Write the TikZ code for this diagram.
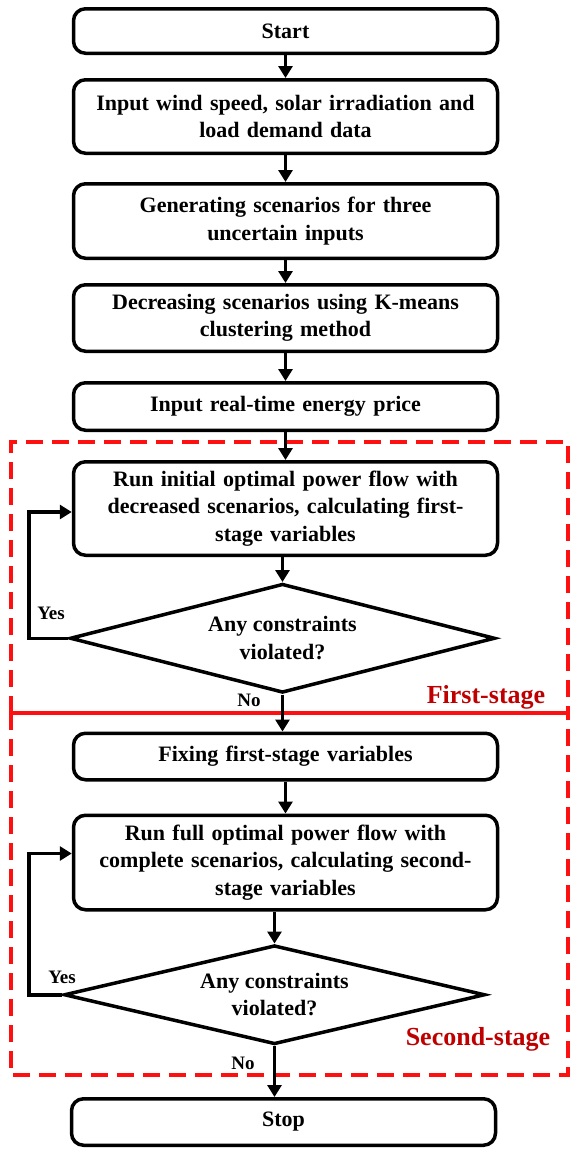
\documentclass[tikz,border=0pt]{standalone}
\usepackage{fontspec}
\setmainfont{Liberation Serif}
\usetikzlibrary{arrows.meta,positioning,shapes.geometric,backgrounds}
\definecolor{StageRed}{HTML}{FF1010}
\definecolor{StageInk}{HTML}{C00000}

\begin{document}
\begin{tikzpicture}[x=1pt, y=1pt,
  box/.style={rounded corners=12pt, draw=black, line width=3.5pt,
              text width=400pt, align=center, inner xsep=12pt, inner ysep=2pt,
              font=\bfseries\fontsize{22}{27.5}\selectfont},
  decision/.style={diamond, draw=black, line width=3.5pt, shape aspect=3.9,
                   inner sep=0pt, align=center,
                   font=\bfseries\fontsize{22}{27.5}\selectfont},
  arr/.style={line width=3.5pt, -{Triangle[length=12pt,width=14pt]}},
  lbl/.style={font=\bfseries\fontsize{19}{22}\selectfont},
  stagelbl/.style={font=\bfseries\fontsize{26}{30}\selectfont, text=StageInk},
  stageframe/.style={draw=StageRed, line width=3.5pt},
  dashedframe/.style={stageframe, dash pattern=on 17pt off 9pt}]
  \useasboundingbox (0,0) rectangle (570,-1154);

  % main column
  \node[box, minimum height=44.5pt] (start) at (285.5,-31) {Start};
  \node[box, minimum height=73.5pt, below=23pt of start] (input)
    {Input wind speed, solar irradiation and\\load demand data};
  \node[box, minimum height=74.5pt, below=27pt of input] (scen)
    {Generating scenarios for three\\uncertain inputs};
  \node[box, minimum height=66.5pt, below=23pt of scen] (reduce)
    {Decreasing scenarios using K-means\\clustering method};
  \node[box, minimum height=47.5pt, below=28pt of reduce] (price)
    {Input real-time energy price};
  \node[box, minimum height=93.5pt, below=28pt of price] (opf1)
    {Run initial optimal power flow with\\decreased scenarios, calculating first-\\stage variables};
  \node[decision, minimum width=425pt, minimum height=109pt,
        below=25pt of opf1, xshift=-3pt] (chk1) {Any constraints\\violated?};
  \node[box, minimum height=46.5pt, below=37pt of chk1, xshift=3pt] (fix)
    {Fixing first-stage variables};
  \node[box, minimum height=94.5pt, below=32pt of fix] (opf2)
    {Run full optimal power flow with\\complete scenarios, calculating second-\\stage variables};
  \node[decision, minimum width=421pt, minimum height=99pt,
        below=32pt of opf2, xshift=-11pt] (chk2) {Any constraints\\violated?};
  \node[box, minimum height=46.5pt, below=51pt of chk2, xshift=9pt] (stop) {Stop};

  % branch labels
  \node[lbl] (yes1) at (51,-613) {Yes};
  \node[lbl] (no1) at (249,-700) {No};
  \node[lbl] (yes2) at (62,-977) {Yes};
  \node[lbl] (no2) at (243,-1063) {No};
  \node[stagelbl] (stage1) at (486,-697) {First-stage};
  \node[stagelbl] (stage2) at (478,-1039) {Second-stage};

  \coordinate (lpx) at (29,0);

  % connectors
  \draw[arr] (start) -- (input);
  \draw[arr] (input) -- (scen);
  \draw[arr] (scen) -- (reduce);
  \draw[arr] (reduce) -- (price);
  \draw[arr] (price) -- (opf1);
  \draw[arr] (chk1.north |- opf1.south) -- (chk1.north);
  \draw[arr] (chk1.south) -- (chk1.south |- fix.north);
  \draw[arr] (chk1.west) -- (chk1.west -| lpx) |- ([yshift=-3.5pt]opf1.west);
  \draw[arr] (fix) -- (opf2);
  \draw[arr] (chk2.north |- opf2.south) -- (chk2.north);
  \draw[arr] (chk2.south) -- (chk2.south |- stop.north);
  \draw[arr] (chk2.west) -- (chk2.west -| lpx) |- ([yshift=9pt]opf2.west);

  % stage frames
  \begin{scope}[on background layer]
    \draw[dashedframe] (11,-713) -- (11,-442) -- (568,-442) -- (568,-713);
    \draw[stageframe] (11,-713) -- (568,-713);
    \draw[dashedframe] (11,-713) -- (11,-1075) -- (568,-1075) -- (568,-713);
  \end{scope}
\end{tikzpicture}
\end{document}
